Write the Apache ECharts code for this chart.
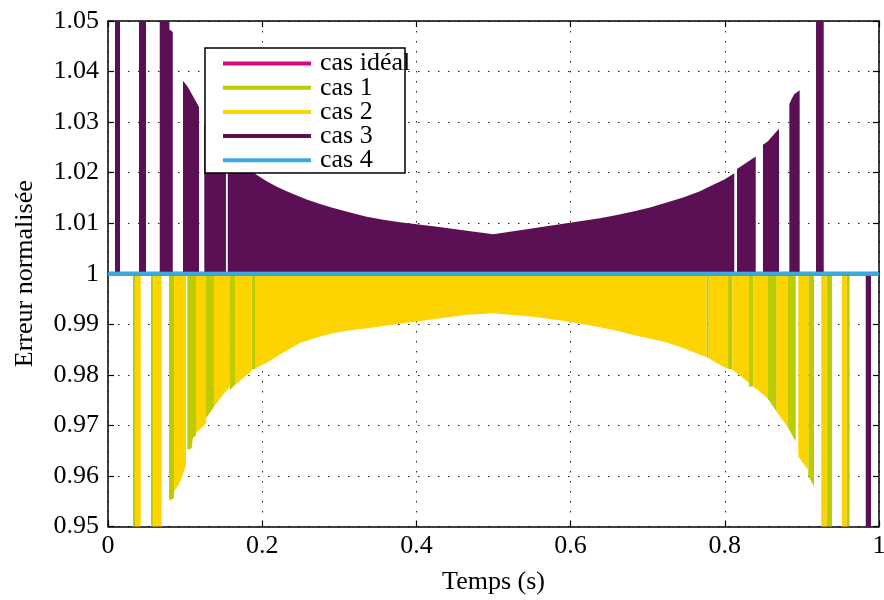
<!DOCTYPE html>
<html><head><meta charset="utf-8">
<script src="https://cdn.jsdelivr.net/npm/echarts@6/dist/echarts.min.js"></script>
<style>html,body{margin:0;padding:0;background:#fff}#c{width:884px;height:600px}</style>
</head><body><div id="c"></div>
<script>
// x ticks and axis range
const xTicks = [0, 0.2, 0.4, 0.6, 0.8, 1];
const yRange = [0.95, 1.05];
const seriesNames = ['cas idéal', 'cas 1', 'cas 2', 'cas 3', 'cas 4'];

// cas idéal and cas 4: constant 1
const casIdeal = [[0, 1], [1, 1]];
const cas4 = [[0, 1], [1, 1]];

// cas 3 (purple): filled bursts above 1 (values > 1.05 are clipped)
const cas3Segments = [
  [[0.0091, 1.06], [0.0156, 1.06]],
  [[0.0402, 1.06], [0.0493, 1.06]],
  [[0.0671, 1.06], [0.0795, 1.06], [0.0797, 1.0483], [0.0840, 1.0478]],
  [[0.0973, 1.0382], [0.1029, 1.0371], [0.1107, 1.0350], [0.1180, 1.0330]],
  [[0.1249, 1.0298], [0.1400, 1.0275], [0.1530, 1.0255]],
  [[0.1553, 1.0250], [0.1750, 1.0222], [0.1925, 1.0196], [0.2058, 1.0183], [0.2190, 1.0172],
   [0.2318, 1.0163], [0.2450, 1.0155], [0.2577, 1.0147], [0.2750, 1.0138], [0.2922, 1.0130],
   [0.3140, 1.0121], [0.3355, 1.0113], [0.3570, 1.0107], [0.3787, 1.0102], [0.4219, 1.0094],
   [0.4653, 1.0085], [0.4997, 1.0078], [0.5516, 1.0090], [0.5948, 1.0100], [0.6381, 1.0110],
   [0.6600, 1.0116], [0.6813, 1.0123], [0.7030, 1.0131], [0.7247, 1.0141], [0.7460, 1.0151],
   [0.7678, 1.0163], [0.7850, 1.0176], [0.8000, 1.0187], [0.8123, 1.0199]],
  [[0.8158, 1.0207], [0.8401, 1.0232]],
  [[0.8495, 1.0255], [0.8560, 1.0262], [0.8650, 1.0278], [0.8703, 1.0287]],
  [[0.8837, 1.0336], [0.8865, 1.0345], [0.8900, 1.0355], [0.8971, 1.0363]],
  [[0.9183, 1.0493], [0.9215, 1.06], [0.9283, 1.06]],
  [[0.9828, 0.94], [0.9896, 0.94]]
];

// cas 2 (yellow): filled bursts below 1
const cas2Segments = [
  [[0.0359, 0.94], [0.0424, 0.94]],
  [[0.0588, 0.94], [0.0696, 0.94]],
  [[0.0856, 0.9569], [0.0934, 0.9587], [0.0977, 0.9605], [0.1012, 0.9622]],
  [[0.1141, 0.9685], [0.1271, 0.9704]],
  [[0.1375, 0.9737], [0.1480, 0.9758], [0.1582, 0.9777]],
  [[0.1647, 0.9780], [0.1760, 0.9795], [0.1864, 0.9807]],
  [[0.1916, 0.9813], [0.2058, 0.9824], [0.2274, 0.9844], [0.2490, 0.9863], [0.2707, 0.9874],
   [0.2922, 0.9883], [0.3140, 0.9888], [0.3355, 0.9892], [0.3787, 0.9901], [0.4219, 0.9910],
   [0.4653, 0.9919], [0.4997, 0.9922], [0.5516, 0.9915], [0.5948, 0.9906], [0.6381, 0.9894],
   [0.6600, 0.9887], [0.6813, 0.9879], [0.7030, 0.9872], [0.7247, 0.9864], [0.7460, 0.9853],
   [0.7678, 0.9840], [0.7765, 0.9835]],
  [[0.7791, 0.9833], [0.7980, 0.9816], [0.8042, 0.9812]],
  [[0.8097, 0.9810], [0.8210, 0.9797], [0.8314, 0.9784]],
  [[0.8370, 0.9777], [0.8551, 0.9754]],
  [[0.8673, 0.9727], [0.8811, 0.9698]],
  [[0.8953, 0.9638], [0.9083, 0.9612]],
  [[0.9251, 0.94], [0.9321, 0.94]],
  [[0.9520, 0.94], [0.9581, 0.94]]
];

// cas 1 (green): filled bursts below 1
const cas1Segments = [
  [[0.0324, 0.94], [0.0359, 0.94]],
  [[0.0558, 0.94], [0.0588, 0.94]],
  [[0.0791, 0.9552], [0.0850, 0.9555], [0.0856, 0.9560]],
  [[0.1029, 0.9652], [0.1085, 0.9655], [0.1100, 0.9675], [0.1141, 0.9680]],
  [[0.1271, 0.9714], [0.1375, 0.9737]],
  [[0.1582, 0.9770], [0.1647, 0.9780]],
  [[0.1864, 0.9810], [0.1916, 0.9812]],
  [[0.7765, 0.9835], [0.7791, 0.9833]],
  [[0.8042, 0.9812], [0.8097, 0.9810]],
  [[0.8314, 0.9777], [0.8370, 0.9777]],
  [[0.8551, 0.9754], [0.8673, 0.9727]],
  [[0.8811, 0.9698], [0.8920, 0.9668]],
  [[0.9083, 0.9600], [0.9157, 0.9579]],
  [[0.9321, 0.94], [0.9390, 0.94]],
  [[0.9581, 0.94], [0.9619, 0.94]]
];

const colors = ['#d7097f', '#bdcc00', '#fdd300', '#5b1055', '#3caadc'];
const FONT = 'Liberation Serif';
const FS = 26;

function joinSegments(segs) {
  const out = [];
  segs.forEach((s, i) => { if (i) out.push(null); s.forEach(p => out.push(p)); });
  return out;
}

function areaSeries(name, color, segs) {
  return {
    name, type: 'line', color, data: joinSegments(segs),
    showSymbol: false, connectNulls: false, silent: true, animation: false,
    lineStyle: { width: 0, color },
    areaStyle: { color, opacity: 1, origin: 1 }
  };
}

const chart = echarts.init(document.getElementById('c'), null, { renderer: 'canvas' });
const axisLine = { show: true, onZero: false, lineStyle: { color: '#000', width: 1.5 } };
const tickStyle = { show: true, inside: true, length: 6, lineStyle: { color: '#000', width: 1.2 } };
const split = { show: true, lineStyle: { color: '#222', width: 1, type: [1.5, 8.5] } };

chart.setOption({
  animation: false,
  backgroundColor: '#fff',
  grid: { left: 108, right: 5, top: 21, bottom: 73.5, containLabel: false, outerBoundsMode: 'none' },
  xAxis: [
    {
      type: 'value', min: xTicks[0], max: xTicks[xTicks.length - 1], interval: 0.2,
      axisLine, axisTick: tickStyle, splitLine: split,
      axisLabel: { color: '#000', fontFamily: FONT, fontSize: FS, margin: 7,
        formatter: v => String(+v.toFixed(2)) },
      name: 'Temps (s)', nameLocation: 'middle', nameGap: 43,
      nameTextStyle: { color: '#000', fontFamily: FONT, fontSize: FS }
    },
    {
      type: 'value', position: 'top', min: 0, max: 1, interval: 0.2,
      axisLine, axisTick: tickStyle, splitLine: { show: false }, axisLabel: { show: false }
    }
  ],
  yAxis: [
    {
      type: 'value', min: yRange[0], max: yRange[1], interval: 0.01,
      axisLine, axisTick: tickStyle, splitLine: split,
      axisLabel: { color: '#000', fontFamily: FONT, fontSize: FS, margin: 9,
        formatter: v => String(+v.toFixed(2)) },
      name: 'Erreur normalisée', nameLocation: 'middle', nameGap: 70,
      nameTextStyle: { color: '#000', fontFamily: FONT, fontSize: FS }
    },
    {
      type: 'value', position: 'right', min: yRange[0], max: yRange[1], interval: 0.01,
      axisLine, axisTick: tickStyle, splitLine: { show: false }, axisLabel: { show: false }
    }
  ],
  legend: {
    show: true, orient: 'vertical', left: 223, top: 50.5, padding: 0,
    itemWidth: 88, itemHeight: 4, itemGap: -1.8, icon: 'rect', selectedMode: false,
    data: seriesNames,
    textStyle: { color: '#000', fontFamily: FONT, fontSize: FS, padding: [0, 0, 0, 4] },
    z: 10
  },
  graphic: [{
    type: 'rect', z: 8, silent: true,
    shape: { x: 205, y: 48, width: 200, height: 125 },
    style: { fill: '#fff', stroke: '#000', lineWidth: 1.5 }
  }],
  series: [
    { name: seriesNames[0], type: 'line', color: colors[0], data: casIdeal, showSymbol: false,
      lineStyle: { width: 4, color: colors[0] }, silent: true },
    areaSeries(seriesNames[1], colors[1], cas1Segments),
    areaSeries(seriesNames[2], colors[2], cas2Segments),
    areaSeries(seriesNames[3], colors[3], cas3Segments),
    { name: seriesNames[4], type: 'line', color: colors[4], data: cas4, showSymbol: false,
      lineStyle: { width: 4, color: colors[4] }, silent: true }
  ]
});
</script>
</body></html>
